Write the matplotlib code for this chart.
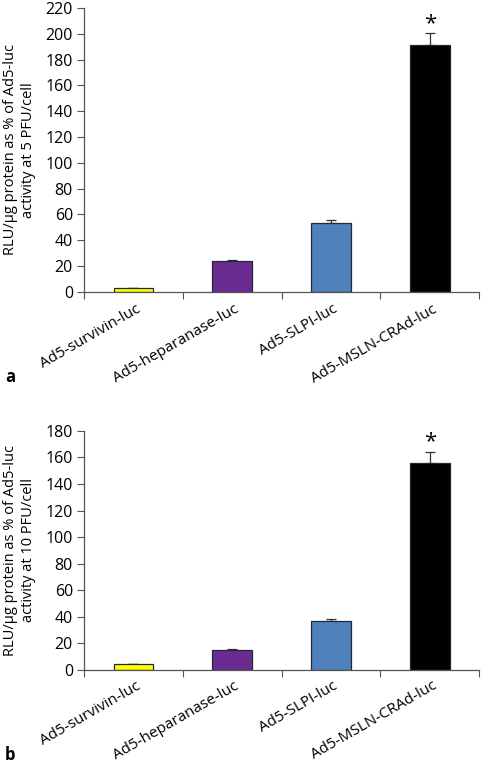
import numpy as np
import matplotlib
matplotlib.use('Agg')
import matplotlib.pyplot as plt

plt.rcParams['font.family'] = ['Open Sans', 'DejaVu Sans']

categories = ['Ad5-survivin-luc', 'Ad5-heparanase-luc', 'Ad5-SLPI-luc', 'Ad5-MSLN-CRAd-luc']
colors = ['#FFFF00', '#6B2C91', '#4F81BD', '#000000']

vals_a = [2.7, 24, 53.7, 191]
err_a = [0.4, 1.0, 2.3, 9.5]
vals_b = [4.5, 15, 37, 156]
err_b = [0.4, 0.5, 1.5, 8]

ylabel_a = 'RLU/\u03bcg protein as % of Ad5-luc\nactivity at 5 PFU/cell'
ylabel_b = 'RLU/\u03bcg protein as % of Ad5-luc\nactivity at 10 PFU/cell'

fnt = 10.5
fig = plt.figure(figsize=(4.83, 7.64), dpi=100)


def panel(pos, vals, err, ymax, ystep, ylabel, letter, letter_y, star_y):
    ax = fig.add_axes(pos)
    x = np.arange(len(categories)) + 0.5
    ax.bar(x, vals, width=0.4, color=colors, edgecolor='#1f2a38', linewidth=0.9, zorder=2)
    ax.errorbar(x, vals, yerr=[np.zeros(len(err)), err], fmt='none', ecolor='#333333',
                elinewidth=0.9, capsize=3.5, capthick=0.9, zorder=1)
    ax.text(x[-1], star_y, '*', ha='center', va='center', fontsize=16)
    ax.set_xlim(0, len(categories))
    ax.set_ylim(0, ymax)
    ax.set_yticks(np.arange(0, ymax + 1, ystep))
    ax.set_xticks(np.arange(len(categories) + 1))
    ax.set_xticklabels([])
    for xi, lab in zip(x, categories):
        ax.text(xi + 0.02, -0.035 * ymax, lab, rotation=30, ha='right', va='top',
                rotation_mode='anchor', fontsize=11)
    for s in ['top', 'right']:
        ax.spines[s].set_visible(False)
    for s in ['left', 'bottom']:
        ax.spines[s].set_color('#555555')
        ax.spines[s].set_linewidth(0.9)
    ax.tick_params(axis='y', direction='out', length=5, color='#555555', labelsize=11.5, pad=3)
    ax.tick_params(axis='x', direction='out', length=5, color='#555555')
    ax.set_ylabel(ylabel, fontsize=fnt, labelpad=7, linespacing=1.25)
    fig.text(0.01, letter_y, letter, fontsize=12, fontweight='bold', va='center')
    return ax


panel([0.174, 0.618, 0.818, 0.3715], vals_a, err_a, 220, 20, ylabel_a, 'a', 0.507, 208)
panel([0.174, 0.123, 0.818, 0.313], vals_b, err_b, 180, 20, ylabel_b, 'b', 0.012, 172)

fig.savefig('out.png', dpi=100)
